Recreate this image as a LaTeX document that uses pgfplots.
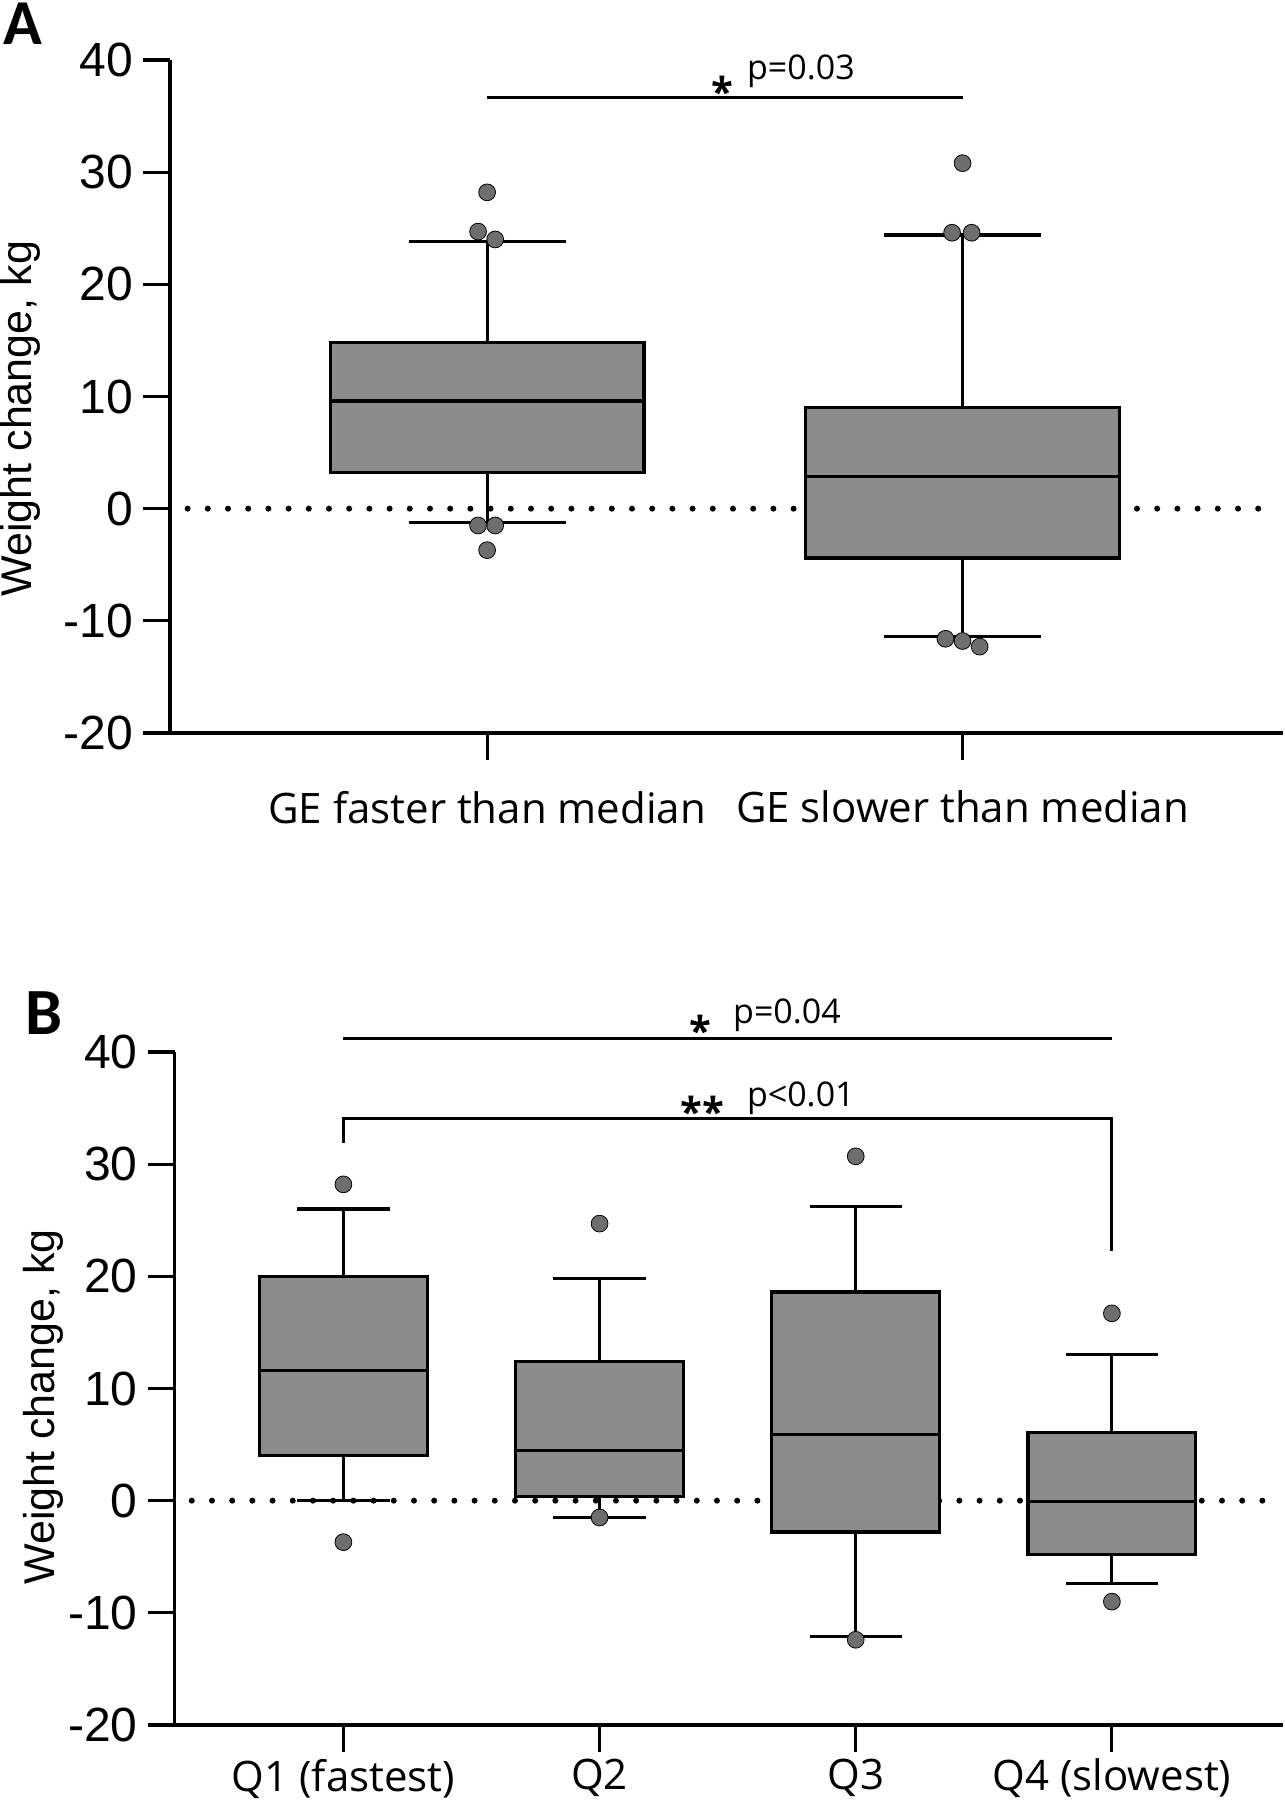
\documentclass[border=0pt]{standalone}
\usepackage{fontspec}
\setmainfont{Liberation Sans}
\newfontfamily\osans{Open Sans}
\newfontfamily\carl{Carlito}
\usepackage{pgfplots}
\pgfplotsset{compat=1.18}
\usepgfplotslibrary{statistics}
\definecolor{boxgray}{HTML}{8C8C8C}
\definecolor{dotgray}{HTML}{6E6E6E}
\pgfplotsset{
  panel/.style={
    anchor=south west, scale only axis, height=336.5pt,
    ymin=-20, ymax=40, enlargelimits=false, clip=false,
    axis x line*=bottom, axis y line*=left,
    axis line style={line width=1.6pt},
    every tick/.style={black, line width=1.6pt},
    tick align=outside, major tick length=13.5pt,
    ytick={-20,-10,0,10,20,30,40},
    yticklabels={-20,-10,0,10,20,30,40},
    yticklabel style={font=\fontsize{24}{28}\selectfont, xshift=-1.5pt},
    xticklabel style={font=\osans\fontsize{21}{25}\selectfont},
    ylabel style={font=\fontsize{21.5}{25}\selectfont},
    boxplot/draw direction=y,
  },
  bx/.style={draw=black, line width=1.6pt, fill=boxgray, solid, mark=none},
  outl/.style={only marks, mark=*, mark size=4.2pt, mark options={draw=none, fill=dotgray}},
  zeroline/.style={line width=3pt, line cap=round, dash pattern=on 0pt off 10.1pt, draw=black, mark=none},
}
\begin{document}
\begin{tikzpicture}
\useasboundingbox (0,0) rectangle (642.5pt,900pt);
\node[font=\carl\bfseries\fontsize{32}{37}\selectfont, inner sep=0pt, anchor=base] at (11.5pt,877.6pt) {A};
\node[font=\carl\bfseries\fontsize{33}{38}\selectfont, inner sep=0pt, anchor=base] at (21.75pt,382.5pt) {B};
% Panel A
\begin{axis}[panel, at={(85pt,533.5pt)}, width=556.5pt,
  xmin=-0.667, xmax=1.674,
  xtick={0,1}, xticklabels={GE faster than median, GE slower than median},
  xticklabel style={yshift=-12pt},
  ylabel={Weight change, kg},
  ylabel style={at={(axis description cs:-0.134,0.467)}, anchor=center, rotate=0},
]
\addplot[zeroline] coordinates {(-0.63,0) (1.633,0)};
\addplot[bx, boxplot prepared={lower whisker=-1.2, lower quartile=3.2, median=9.6, upper quartile=14.8, upper whisker=23.8, draw position=0, box extend=0.66, whisker extend=0.33}] coordinates {};
\addplot[bx, boxplot prepared={lower whisker=-11.4, lower quartile=-4.4, median=2.9, upper quartile=9.0, upper whisker=24.4, draw position=1, box extend=0.66, whisker extend=0.33}] coordinates {};
\addplot[outl] coordinates {(0,28.2) (-0.019,24.7) (0.017,24.0) (-0.019,-1.5) (0.017,-1.5) (0,-3.7)};
\addplot[outl] coordinates {(1,30.8) (0.978,24.6) (1.019,24.6) (0.964,-11.6) (1,-11.8) (1.036,-12.3)};
\draw[line width=1.5pt] (axis cs:0,36.7) -- (axis cs:1,36.7);
\node[font=\osans\bfseries\fontsize{20}{24}\selectfont, inner sep=0pt, anchor=north] at (axis cs:0.495,38.6) {*};
\node[font=\osans\fontsize{17}{20}\selectfont, inner sep=0pt, anchor=west] at (axis cs:0.546,39.0) {p=0.03};
\end{axis}
% Panel B
\begin{axis}[panel, at={(87.3pt,37.5pt)}, width=554.2pt,
  xmin=-0.659, xmax=3.668,
  xtick={0,1,2,3}, xticklabels={Q1 (fastest), Q2, Q3, Q4 (slowest)},
  ylabel={Weight change, kg},
  ylabel style={at={(axis description cs:-0.118,0.4725)}, anchor=center, rotate=0},
]
\addplot[zeroline] coordinates {(-0.592,0) (3.59,0)};
\addplot[bx, boxplot prepared={lower whisker=0, lower quartile=4.0, median=11.6, upper quartile=20.0, upper whisker=26.0, draw position=0, box extend=0.655, whisker extend=0.36}] coordinates {};
\addplot[bx, boxplot prepared={lower whisker=-1.5, lower quartile=0.4, median=4.5, upper quartile=12.4, upper whisker=19.8, draw position=1, box extend=0.655, whisker extend=0.36}] coordinates {};
\addplot[bx, boxplot prepared={lower whisker=-12.1, lower quartile=-2.8, median=5.9, upper quartile=18.6, upper whisker=26.2, draw position=2, box extend=0.655, whisker extend=0.36}] coordinates {};
\addplot[bx, boxplot prepared={lower whisker=-7.4, lower quartile=-4.8, median=-0.1, upper quartile=6.1, upper whisker=13.0, draw position=3, box extend=0.655, whisker extend=0.36}] coordinates {};
\addplot[outl] coordinates {(0,28.2) (0,-3.7) (1,24.7) (1,-1.5) (2,30.7) (2,-12.4) (3,16.7) (3,-9.0)};
\draw[line width=1.5pt] (axis cs:0,41.2) -- (axis cs:3,41.2);
\draw[line width=1.5pt] (axis cs:0,31.9) -- (axis cs:0,34.1) -- (axis cs:3,34.1) -- (axis cs:3,22.3);
\node[font=\osans\bfseries\fontsize{20}{24}\selectfont, inner sep=0pt, anchor=north] at (axis cs:1.395,43.3) {*};
\node[font=\osans\fontsize{17}{20}\selectfont, inner sep=0pt, anchor=west] at (axis cs:1.52,43.3) {p=0.04};
\node[font=\osans\bfseries\fontsize{20}{24}\selectfont, inner sep=0pt, anchor=north] at (axis cs:1.40,36.1) {**};
\node[font=\osans\fontsize{17}{20}\selectfont, inner sep=0pt, anchor=west] at (axis cs:1.574,35.9) {p<0.01};
\end{axis}
\end{tikzpicture}
\end{document}
